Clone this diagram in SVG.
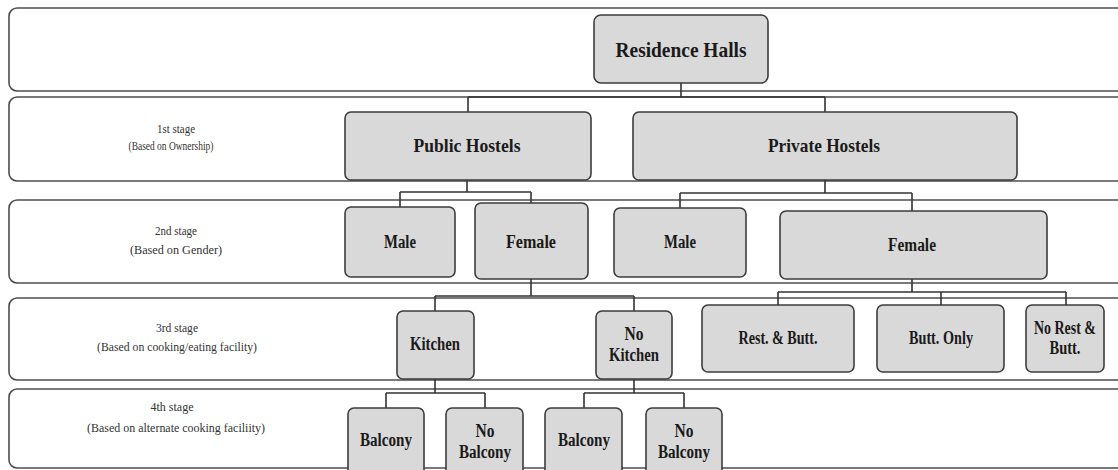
<svg xmlns="http://www.w3.org/2000/svg" width="1118" height="470" viewBox="0 0 1118 470">
<style>
.band{fill:#ffffff;stroke:#4d4d4d;stroke-width:1.6}
.node{fill:#d9d9d9;stroke:#3d3d3d;stroke-width:1.6}
.lbl{font-family:"Liberation Serif",serif;font-weight:bold;font-size:18px;fill:#1a1a1a;text-anchor:middle}
.stg{font-family:"Liberation Serif",serif;font-size:13.5px;fill:#333;text-anchor:middle}
.con{fill:none;stroke:#333;stroke-width:1.6}
</style>
<rect width="1118" height="470" fill="#ffffff"/>
<g id="bands">
<rect class="band" x="9" y="8" width="1130" height="83" rx="8"/>
<rect class="band" x="9" y="97" width="1130" height="84" rx="8"/>
<rect class="band" x="9" y="200" width="1130" height="83" rx="8"/>
<rect class="band" x="9" y="298" width="1130" height="82" rx="8"/>
<rect class="band" x="9" y="389" width="1130" height="79" rx="8"/>
</g>
<g id="stage-labels">
<text class="stg" x="176" y="133" textLength="38" lengthAdjust="spacingAndGlyphs">1st stage</text>
<text class="stg" x="171" y="150" textLength="85" lengthAdjust="spacingAndGlyphs">(Based on Ownership)</text>
<text class="stg" x="176" y="235" textLength="42" lengthAdjust="spacingAndGlyphs">2nd stage</text>
<text class="stg" x="176" y="254" textLength="92" lengthAdjust="spacingAndGlyphs">(Based on Gender)</text>
<text class="stg" x="177" y="332" textLength="42" lengthAdjust="spacingAndGlyphs">3rd stage</text>
<text class="stg" x="177" y="351" textLength="160" lengthAdjust="spacingAndGlyphs">(Based on cooking/eating  facility)</text>
<text class="stg" x="172" y="411" textLength="43" lengthAdjust="spacingAndGlyphs">4th stage</text>
<text class="stg" x="176" y="432" textLength="178" lengthAdjust="spacingAndGlyphs">(Based  on alternate  cooking  faciliity)</text>
</g>
<g id="connectors">
<path class="con" d="M681 83V97M468 97H825M468 97V112M825 97V112"/>
<path class="con" d="M467 180V192M400 192H531M400 192V207M531 192V203"/>
<path class="con" d="M825 180V193M680 193H912M680 193V208M912 193V211"/>
<path class="con" d="M531 279V296M435 296H634M435 296V311M634 296V311"/>
<path class="con" d="M912 279V292M778 292H1066M778 292V305M941 292V305M1066 292V305"/>
<path class="con" d="M435 379V393M386 393H485M386 393V408M485 393V408"/>
<path class="con" d="M634 379V393M584 393H684M584 393V408M684 393V408"/>
</g>
<g id="residence-halls">
<rect class="node" x="594" y="15" width="174" height="68" rx="7"/>
<text class="lbl" x="681" y="57" style="font-size:21px" textLength="131" lengthAdjust="spacingAndGlyphs">Residence Halls</text>
</g>
<g id="public-hostels">
<rect class="node" x="345" y="112" width="246" height="68" rx="6"/>
<text class="lbl" x="467" y="152" style="font-size:19px" textLength="107" lengthAdjust="spacingAndGlyphs">Public Hostels</text>
</g>
<g id="private-hostels">
<rect class="node" x="633" y="112" width="384" height="68" rx="6"/>
<text class="lbl" x="824" y="152" style="font-size:19px" textLength="112" lengthAdjust="spacingAndGlyphs">Private Hostels</text>
</g>
<g id="public-male">
<rect class="node" x="345" y="207" width="110" height="70" rx="6"/>
<text class="lbl" x="400" y="248" textLength="32" lengthAdjust="spacingAndGlyphs">Male</text>
</g>
<g id="public-female">
<rect class="node" x="475" y="203" width="113" height="76" rx="6"/>
<text class="lbl" x="531" y="248" textLength="50" lengthAdjust="spacingAndGlyphs">Female</text>
</g>
<g id="private-male">
<rect class="node" x="614" y="208" width="132" height="69" rx="6"/>
<text class="lbl" x="680" y="248" textLength="32" lengthAdjust="spacingAndGlyphs">Male</text>
</g>
<g id="private-female">
<rect class="node" x="780" y="211" width="267" height="68" rx="6"/>
<text class="lbl" x="912" y="251" textLength="48" lengthAdjust="spacingAndGlyphs">Female</text>
</g>
<g id="kitchen">
<rect class="node" x="397" y="311" width="77" height="68" rx="6"/>
<text class="lbl" x="435" y="350" textLength="50" lengthAdjust="spacingAndGlyphs">Kitchen</text>
</g>
<g id="no-kitchen">
<rect class="node" x="596" y="311" width="76" height="68" rx="6"/>
<text class="lbl" x="634" y="340" textLength="19" lengthAdjust="spacingAndGlyphs">No</text>
<text class="lbl" x="634" y="361" textLength="50" lengthAdjust="spacingAndGlyphs">Kitchen</text>
</g>
<g id="rest-butt">
<rect class="node" x="702" y="305" width="152" height="67" rx="6"/>
<text class="lbl" x="778" y="344" textLength="79" lengthAdjust="spacingAndGlyphs">Rest. &amp; Butt.</text>
</g>
<g id="butt-only">
<rect class="node" x="877" y="305" width="127" height="67" rx="6"/>
<text class="lbl" x="941" y="344" textLength="64" lengthAdjust="spacingAndGlyphs">Butt. Only</text>
</g>
<g id="no-rest-butt">
<rect class="node" x="1026" y="305" width="78" height="67" rx="6"/>
<text class="lbl" x="1065" y="334" textLength="62" lengthAdjust="spacingAndGlyphs">No Rest &amp;</text>
<text class="lbl" x="1065" y="354" textLength="31" lengthAdjust="spacingAndGlyphs">Butt.</text>
</g>
<g id="balcony-1">
<rect class="node" x="348" y="408" width="76" height="75" rx="6"/>
<text class="lbl" x="386" y="446" textLength="52" lengthAdjust="spacingAndGlyphs">Balcony</text>
</g>
<g id="no-balcony-1">
<rect class="node" x="446" y="408" width="77" height="75" rx="6"/>
<text class="lbl" x="485" y="437" textLength="19" lengthAdjust="spacingAndGlyphs">No</text>
<text class="lbl" x="485" y="458" textLength="52" lengthAdjust="spacingAndGlyphs">Balcony</text>
</g>
<g id="balcony-2">
<rect class="node" x="545" y="408" width="77" height="75" rx="6"/>
<text class="lbl" x="584" y="446" textLength="52" lengthAdjust="spacingAndGlyphs">Balcony</text>
</g>
<g id="no-balcony-2">
<rect class="node" x="646" y="408" width="76" height="75" rx="6"/>
<text class="lbl" x="684" y="437" textLength="19" lengthAdjust="spacingAndGlyphs">No</text>
<text class="lbl" x="684" y="458" textLength="52" lengthAdjust="spacingAndGlyphs">Balcony</text>
</g>
</svg>
